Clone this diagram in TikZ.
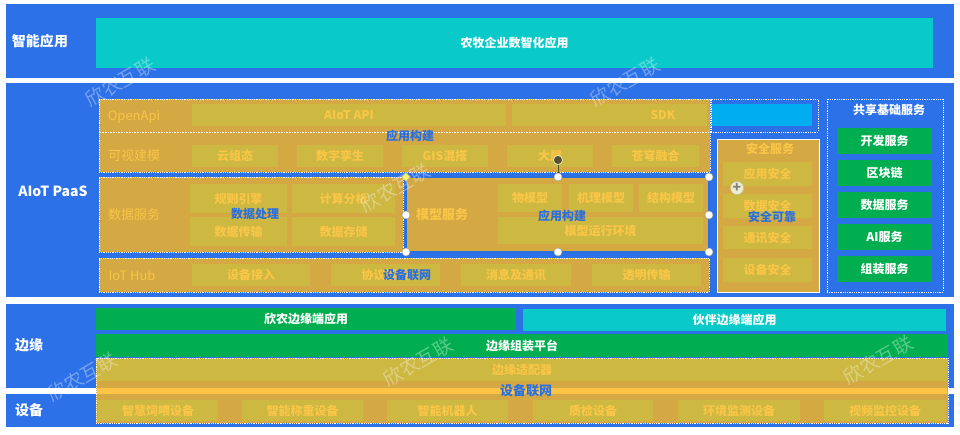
\documentclass[tikz,border=0pt]{standalone}
\usepackage{fontspec}
\setmainfont{Noto Sans CJK SC}
\usepackage{tikz}
\usetikzlibrary{shapes.geometric}

\definecolor{bandblue}{HTML}{2C71E7}
\definecolor{appteal}{HTML}{09C9C9}
\definecolor{grpbrown}{HTML}{D4A843}
\definecolor{cellolive}{HTML}{CDB842}
\definecolor{celltext}{HTML}{F9C647}
\definecolor{tagblue}{HTML}{2A6FE0}
\definecolor{sdkcyan}{HTML}{00AEEF}
\definecolor{edgegreen}{HTML}{00AE4F}
\definecolor{linkorange}{HTML}{FFC445}

\newcommand{\pxfont}[1]{\fontsize{#1}{#1}\selectfont}
\newcommand{\blk}[7]{\node[#1, minimum width={(#5-#3)*1pt}, minimum height={(#6-#4)*1pt}] (#2) at ({(#3+#5)/2},{(#4+#6)/2}) {#7};}

\tikzset{
        box/.style={inner sep=0pt, outer sep=0pt},
        band/.style={box, fill=bandblue},
        head/.style={text=white, font=\pxfont{14}\bfseries},
        tealbox/.style={box, fill=appteal, text=white, font=\pxfont{12}\bfseries},
        greenbox/.style={box, fill=edgegreen, text=white, font=\pxfont{12}\bfseries},
        grp/.style={box, fill=grpbrown, draw=white, densely dotted, line width=0.8pt},
        secgrp/.style={box, fill=grpbrown, draw=white, line width=0.8pt},
        frame/.style={box, draw=white, densely dotted, line width=0.8pt},
        cell/.style={box, fill=cellolive, text=celltext, font=\pxfont{12}\bfseries},
        plain/.style={box, fill=#1},
        grplabel/.style={text=celltext, font=\pxfont{13}},
        tag/.style={text=tagblue, font=\pxfont{12}\bfseries},
        wmark/.style={text=white, opacity=0.35, rotate=30, font=\pxfont{19}},
        grip/.style={circle, fill=white, draw=gray!70, line width=0.5pt, minimum size=8pt, inner sep=0pt},
        sepline/.style={white, densely dotted, line width=0.6pt}
}

\begin{document}
\begin{tikzpicture}[x=1pt, y=-1pt]
            \useasboundingbox (0,0) rectangle (960,435);
            \fill[white] (0,0) rectangle (960,435);

            \blk{band}{bandApp}{6}{4}{954}{78}{}
            \blk{band}{bandPaas}{6}{83}{954}{297}{}
            \blk{band}{bandEdge}{6}{304}{954}{388}{}
            \blk{band}{bandDev}{6}{394}{954}{427}{}

            \node[head] (lblApp) at (40,41) {智能应用};
            \node[head] (lblPaas) at (53,191) {AIoT PaaS};
            \node[head] (lblEdge) at (29,345) {边缘};
            \node[head] (lblDev) at (29,410) {设备};

            \blk{tealbox}{farmApp}{96}{18}{933}{68}{农牧企业数智化应用}

            \blk{grp}{grpBuild}{99}{99}{710}{172}{}
            \draw[sepline] (100,132) -- (709,132);
            \node[grplabel] (lblOpen) at (134,117) {OpenApi};
            \blk{cell}{apiCell}{192}{104}{506}{126}{AIoT API}
            \blk{cell}{sdkCell}{512}{104}{707}{126}{}
            \node[text=celltext, font=\pxfont{12}\bfseries] (sdkTxt) at (663,115) {SDK};
            \blk{plain=sdkcyan}{sdkBar}{711}{104}{812}{126}{}
            \blk{frame}{sdkFrame}{711}{99}{818}{132}{}
            \node[grplabel] (lblVis) at (134,156) {可视建模};
            \blk{cell}{visA}{192}{145}{278}{167}{云组态}
            \blk{cell}{visB}{297}{145}{383}{167}{数字孪生}
            \blk{cell}{visC}{402}{145}{488}{167}{GIS混搭}
            \blk{cell}{visD}{507}{145}{593}{167}{大屏}
            \blk{cell}{visE}{612}{145}{699}{167}{苍穹融合}
            \node[tag] (tagBuild) at (410,136) {应用构建};

            \blk{grp}{grpData}{99}{177}{403}{252}{}
            \node[grplabel] (lblData) at (134,215) {数据服务};
            \blk{cell}{dataA}{190}{184}{287}{213}{规则引擎}
            \blk{cell}{dataB}{292}{184}{395}{213}{计算分析}
            \blk{cell}{dataC}{190}{217}{287}{246}{数据传输}
            \blk{cell}{dataD}{292}{217}{395}{246}{数据存储}
            \node[tag] (tagData) at (255,214) {数据处理};

            \blk{grp}{grpModel}{406}{177}{709}{252}{}
            \draw[tagblue, line width=1.2pt] (grpModel.north west) rectangle (grpModel.south east);
            \node[grplabel, font=\pxfont{13}\bfseries] (lblModel) at (442,215) {模型服务};
            \blk{cell}{modA}{498}{184}{562}{212}{物模型}
            \blk{cell}{modB}{569}{184}{633}{212}{机理模型}
            \blk{cell}{modC}{639}{184}{703}{212}{结构模型}
            \blk{cell}{modD}{498}{217}{703}{244}{模型运行环境}
            \node[tag] (tagModel) at (562,216) {应用构建};

            \blk{grp}{grpHub}{99}{258}{709}{292}{}
            \node[grplabel] (lblHub) at (132,275) {IoT Hub};
            \blk{cell}{hubA}{192}{264}{310}{286}{设备接入}
            \blk{cell}{hubB}{331}{264}{440}{286}{协议解析}
            \blk{cell}{hubC}{461}{264}{571}{286}{消息及通讯}
            \blk{cell}{hubD}{592}{264}{701}{286}{透明传输}
            \node[tag] (tagHub) at (407,275) {设备联网};

            \blk{secgrp}{grpSec}{717}{139}{819}{292}{}
            \node[grplabel, font=\pxfont{12}\bfseries] (lblSec) at (770,149) {安全服务};
            \blk{cell}{secA}{723}{162}{812}{186}{应用安全}
            \blk{cell}{secB}{723}{194}{812}{218}{数据安全}
            \blk{cell}{secC}{723}{226}{812}{249}{通讯安全}
            \blk{cell}{secD}{723}{258}{812}{282}{设备安全}
            \node[tag] (tagSec) at (772,217) {安全可靠};

            \blk{frame}{grpShare}{827}{99}{943}{292}{}
            \node[text=white, font=\pxfont{12}\bfseries] (lblShare) at (889,110) {共享基础服务};
            \blk{greenbox}{shareA}{837}{128}{932}{154}{开发服务}
            \blk{greenbox}{shareB}{837}{160}{932}{186}{区块链}
            \blk{greenbox}{shareC}{837}{192}{932}{218}{数据服务}
            \blk{greenbox}{shareD}{837}{224}{932}{250}{AI服务}
            \blk{greenbox}{shareE}{837}{256}{932}{282}{组装服务}

            \blk{greenbox}{edgeOwn}{96}{308}{516}{330}{欣农边缘端应用}
            \blk{tealbox}{edgePartner}{523}{309}{946}{331}{伙伴边缘端应用}
            \blk{greenbox}{edgeBase}{96}{334}{948}{357}{边缘组装平台}

            \blk{grp}{grpLink}{96}{358}{948}{423}{}
            \blk{cell}{adapter}{97}{359}{947}{381}{}
            \node[text=celltext, font=\pxfont{12}\bfseries] (lblAdapter) at (522,370) {边缘适配器};
            \blk{plain=linkorange}{linkBar}{97}{388}{947}{394}{}
            \node[tag, font=\pxfont{13}\bfseries] (tagLink) at (526,391) {设备联网};
            \blk{cell}{devA}{98}{400}{218}{421}{智慧饲喂设备}
            \blk{cell}{devB}{242}{400}{363}{421}{智能称重设备}
            \blk{cell}{devC}{387}{400}{508}{421}{智能机器人}
            \blk{cell}{devD}{533}{400}{653}{421}{质检设备}
            \blk{cell}{devE}{678}{400}{800}{421}{环境监测设备}
            \blk{cell}{devF}{824}{400}{946}{421}{视频监控设备}

            \foreach \wx/\wy [count=\i] in {120/82, 625/82, 395/188, 82/377, 418/362, 878/360}
                \node[wmark] (wm\i) at (\wx,\wy) {欣农互联};

            \foreach \hx/\hy [count=\i] in {558/177, 709/177, 406/215, 709/215, 406/252, 558/252, 709/252}
                \node[grip] (grip\i) at (\hx,\hy) {};
            \node[diamond, fill=yellow!60, draw=gray!70, line width=0.5pt, minimum size=9pt, inner sep=0pt] (gripCorner) at (406,177) {};
            \node[circle, fill=black!50!olive, draw=white, line width=0.5pt, minimum size=9pt, inner sep=0pt] (gripTurn) at (558,160) {};
            \draw[black!50!olive, line width=0.6pt] (gripTurn) -- (grip1);
            \node[circle, fill=white!85!olive, draw=gray!50, minimum size=13pt, inner sep=0pt, text=gray, font=\pxfont{14}\bfseries] (addBtn) at (737,188) {+};
\end{tikzpicture}
\end{document}
